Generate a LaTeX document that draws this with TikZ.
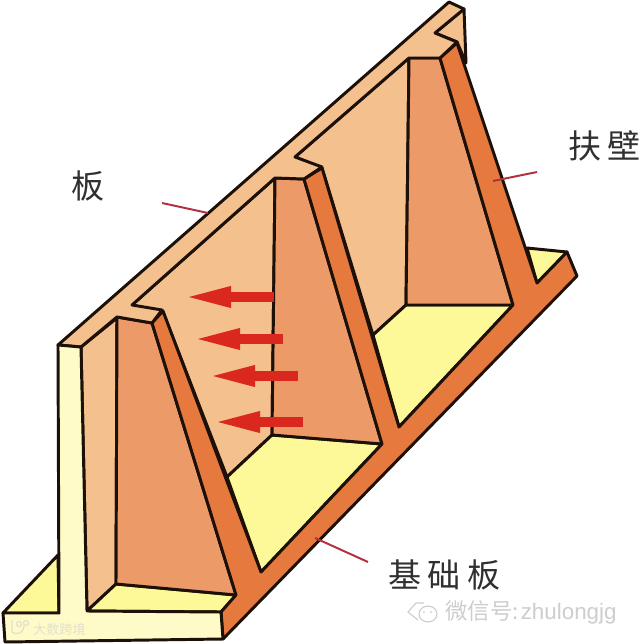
\documentclass[tikz,border=0pt]{standalone}
\usepackage{fontspec}
\newfontfamily\cjk{Noto Sans CJK SC}
\setsansfont{Liberation Sans}
\definecolor{PaleYellow}{RGB}{255,251,200}
\definecolor{FloorYellow}{RGB}{253,248,152}
\definecolor{WallTan}{RGB}{243,192,142}
\definecolor{FaceSalmon}{RGB}{236,155,104}
\definecolor{RibOrange}{RGB}{230,122,62}
\definecolor{OutlineDark}{RGB}{28,16,8}
\definecolor{ArrowRed}{RGB}{218,40,30}
\definecolor{LeaderRed}{RGB}{178,48,64}
\definecolor{LabelGray}{RGB}{48,48,48}
\definecolor{MarkGray}{RGB}{205,205,208}
\definecolor{MarkPale}{RGB}{226,224,205}
\usetikzlibrary{arrows.meta}
\tikzset{
  part/.style={draw=OutlineDark, line width=2.1pt, line join=round},
  pressure/.style={draw=ArrowRed, line width=7.1pt, -{Triangle[length=1.25cm, width=0.46cm]}},
  leader/.style={draw=LeaderRed, line width=1.4pt},
  callout/.style={text=LabelGray, font=\cjk\fontsize{23.5}{24}\selectfont, inner sep=0pt},
}
\begin{document}
\begin{tikzpicture}[x=0.025cm, y=-0.025cm]
  \useasboundingbox (0,0) rectangle (640,644);
  % wall panels and floors
  \fill[part, fill=FloorYellow] (3,613) -- (58,555) -- (59,613) -- cycle;
  \fill[part, fill=WallTan] (81,347) -- (117,318) -- (116,584) -- (87,611) -- cycle;
  \fill[part, fill=WallTan] (132,305) -- (275,178) -- (272,435) -- (227,477) -- (163,312) -- cycle;
  \fill[part, fill=WallTan] (295,157) -- (409,58) -- (406,305) -- (373,335) -- (322,168) -- cycle;
  \fill[part, fill=WallTan] (435,33) -- (464,9) -- (466,63) -- (457,42) -- cycle;
  \fill[part, fill=FloorYellow] (87,611) -- (116,584) -- (236,595) -- (221,612) -- cycle;
  \fill[part, fill=FloorYellow] (227,477) -- (272,435) -- (382,444) -- (261,572) -- cycle;
  \fill[part, fill=FloorYellow] (373,335) -- (406,305) -- (513,305) -- (399,427) -- cycle;
  \fill[part, fill=FloorYellow] (527,248) -- (567,252) -- (537,283) -- cycle;
  % buttress faces
  \fill[part, fill=FaceSalmon] (117,317) -- (152,323) -- (236,595) -- (116,584) -- cycle;
  \fill[part, fill=FaceSalmon] (275,178) -- (304,179) -- (382,444) -- (272,435) -- cycle;
  \fill[part, fill=FaceSalmon] (409,58) -- (440,58) -- (513,305) -- (406,305) -- cycle;
  % ribs and base edge
  \fill[part, fill=RibOrange] (221,612) -- (236,595) -- (152,323) -- (163,311) -- (261,572) -- (382,444)
    -- (304,179) -- (322,168) -- (399,427) -- (513,305) -- (440,58) -- (457,43) -- (537,283)
    -- (567,252) -- (577,276) -- (223,639) -- cycle;
  % top of the slab
  \fill[part, fill=WallTan] (58,345) -- (449,2) -- (464,9) -- (435,33) -- (457,42) -- (440,58) -- (409,58)
    -- (295,157) -- (322,167) -- (304,179) -- (275,178) -- (132,305) -- (162,310) -- (152,323)
    -- (117,317) -- (81,347) -- cycle;
  % end section
  \fill[part, fill=PaleYellow] (58,345) -- (81,347) -- (87,611) -- (221,612) -- (223,639) -- (5,642)
    -- (3,613) -- (59,613) -- cycle;
  % earth pressure
  \coordinate (tailA) at (274,297);
  \coordinate (tipA) at (181,297);
  \coordinate (tailB) at (283,339);
  \coordinate (tipB) at (190,339);
  \coordinate (tailC) at (298,376);
  \coordinate (tipC) at (205,376);
  \coordinate (tailD) at (303,422);
  \coordinate (tipD) at (210,422);
  \draw[pressure] (tailA) -- (tipA);
  \draw[pressure] (tailB) -- (tipB);
  \draw[pressure] (tailC) -- (tipC);
  \draw[pressure] (tailD) -- (tipD);
  % labels
  \node[callout] (banlabel) at (88,186) {板};
  \node[callout, anchor=west] (fubilabel) at (568,146) {扶\hspace{0.2em}壁};
  \node[callout, anchor=west] (jichulabel) at (388,575) {基\hspace{0.2em}础\hspace{0.2em}板};
  \coordinate (banfoot) at (208,213);
  \coordinate (banhead) at (162,203);
  \coordinate (fubifoot) at (493,181);
  \coordinate (fubihead) at (537,172);
  \coordinate (jichufoot) at (315,538);
  \coordinate (jichuhead) at (368,562);
  \draw[leader] (banhead) -- (banfoot);
  \draw[leader] (fubihead) -- (fubifoot);
  \draw[leader] (jichuhead) -- (jichufoot);
  % watermarks
  \node[text=MarkGray, font=\cjk\fontsize{15.9}{16}\selectfont, inner sep=0pt, anchor=west] (wechatmark) at (445,612)
    {微信号:\hspace{0.1em}{\sffamily zhulongjg}};
  \draw[MarkGray, line width=0.8pt] (428,614) ellipse (9 and 8);
  \draw[MarkGray, line width=0.8pt] (424,603) -- (416,603) -- (408,612) -- (418,620);
  \fill[MarkGray] (424,612) circle (1);
  \fill[MarkGray] (431,612) circle (1);
  \node[text=MarkPale, font=\cjk\fontsize{9.3}{10}\selectfont, inner sep=0pt, anchor=west] (cornermark) at (33,630) {大数跨境};
  \draw[MarkPale, line width=0.9pt] (12,620) -- (12,632) .. controls (18,636) and (24,632) .. (24,626);
  \draw[MarkPale, line width=0.9pt] (19,624) circle (2.5);
  \draw[MarkPale, line width=0.9pt] (26,623) circle (2.5);
\end{tikzpicture}
\end{document}
